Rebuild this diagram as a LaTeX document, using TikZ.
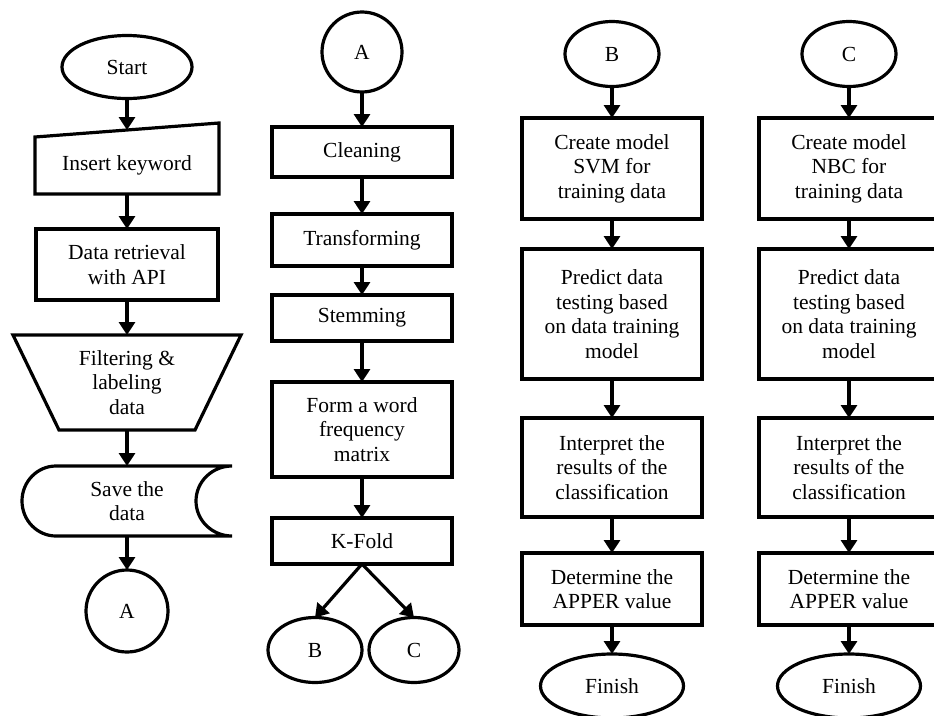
\documentclass[tikz,border=0pt]{standalone}
\usepackage{fontspec}
\setmainfont{Liberation Serif}
\usepackage{tikz}
\usetikzlibrary{shapes.geometric}
\usetikzlibrary{arrows.meta}
\usetikzlibrary{calc}
\newcommand{\flowwidth}{3.2pt}
\tikzstyle{outline}=[line width=\flowwidth, line join=miter]
\tikzstyle{plain}=[inner sep=0, outer sep=0, align=center, font=\fontsize{21.5}{24.5}\selectfont]
\tikzstyle{process}=[plain, outline, draw, rectangle, minimum width=180pt]
\tikzstyle{terminal}=[plain, outline, draw, ellipse]
\tikzstyle{connector}=[plain, outline, draw, circle]
\tikzstyle{flow}=[line width=\flowwidth, -{Triangle[width=16pt, length=13pt]}]

\begin{document}
\begin{tikzpicture}[x=1pt, y=-1pt]
    \useasboundingbox (0,0) rectangle (934,715);
    \clip (0,0) rectangle (934,715);
    % first column
    \node[terminal, minimum width=130pt, minimum height=63pt] (start) at (127,67) {Start};
    \node[plain, minimum width=184pt, minimum height=57pt] (ins) at (127,165.5) {Insert keyword};
    \draw[outline] (ins.south west) -- (ins.south east) -- ($(ins.north east)+(0,-14)$) -- (ins.north west) -- cycle;
    \coordinate (ins-top) at ($(ins.north)+(0,-7)$);
    \node[process, minimum width=182pt, minimum height=71pt] (dret) at (127,264.5) {Data retrieval\\with API};
    \node[plain, minimum width=228pt, minimum height=95pt] (filt) at (127,382.5) {Filtering \&\\labeling\\data};
    \draw[outline] (filt.north west) -- (filt.north east) -- ($(filt.south east)+(-46,0)$) -- ($(filt.south west)+(46,0)$) -- cycle;
    \node[plain, minimum width=210pt, minimum height=70pt] (save) at (127,501) {Save the\\data};
    \draw[outline] (save.north east) -- ($(save.north west)+(34,0)$)
        arc[start angle=90, end angle=270, x radius=34pt, y radius=35pt] -- (save.south east)
        arc[start angle=270, end angle=90, x radius=36pt, y radius=35pt] -- cycle;
    \node[connector, minimum size=82pt] (a-out) at (127,611) {A};
    \draw[flow] (start) -- (ins-top);
    \draw[flow] (ins) -- (dret);
    \draw[flow] (dret) -- (filt);
    \draw[flow] (filt) -- (save);
    \draw[flow] (save) -- (a-out);

    % second column
    \node[connector, minimum size=80pt] (a-in) at (362,52) {A};
    \node[process, minimum height=50pt] (clean) at (362,152) {Cleaning};
    \node[process, minimum height=52pt] (trans) at (362,240) {Transforming};
    \node[process, minimum height=46pt] (stem) at (362,318) {Stemming};
    \node[process, minimum height=95pt] (form) at (362,429.5) {Form a word\\frequency\\matrix};
    \node[process, minimum height=46pt] (kfold) at (362,541) {K-Fold};
    \node[terminal, minimum width=94pt, minimum height=65pt] (b-out) at (315,650) {B};
    \node[terminal, minimum width=90pt, minimum height=65pt] (c-out) at (414,650) {C};
    \draw[flow] (a-in) -- (clean);
    \draw[flow] (clean) -- (trans);
    \draw[flow] (trans) -- (stem);
    \draw[flow] (stem) -- (form);
    \draw[flow] (form) -- (kfold);
    \draw[flow] (kfold.south) -- (b-out.north);
    \draw[flow] (kfold.south) -- (c-out.north);

    % third column, SVM
    \node[terminal, minimum width=94pt, minimum height=65pt] (b-in) at (612,54) {B};
    \node[process, minimum height=101pt] (svm-model) at (612,168.5) {Create model\\SVM for\\training data};
    \node[process, minimum height=130pt] (svm-predict) at (612,314) {Predict data\\testing based\\on data training\\model};
    \node[process, minimum height=99pt] (svm-result) at (612,467.5) {Interpret the\\results of the\\classification};
    \node[process, minimum height=72pt] (svm-apper) at (612,589) {Determine the\\APPER value};
    \node[terminal, minimum width=143pt, minimum height=64pt] (svm-finish) at (612,686) {Finish};
    \draw[flow] (b-in) -- (svm-model);
    \draw[flow] (svm-model) -- (svm-predict);
    \draw[flow] (svm-predict) -- (svm-result);
    \draw[flow] (svm-result) -- (svm-apper);
    \draw[flow] (svm-apper) -- (svm-finish);

    % fourth column, NBC
    \node[terminal, minimum width=94pt, minimum height=65pt] (c-in) at (849,54) {C};
    \node[process, minimum height=101pt] (nbc-model) at (849,168.5) {Create model\\NBC for\\training data};
    \node[process, minimum height=130pt] (nbc-predict) at (849,314) {Predict data\\testing based\\on data training\\model};
    \node[process, minimum height=99pt] (nbc-result) at (849,467.5) {Interpret the\\results of the\\classification};
    \node[process, minimum height=72pt] (nbc-apper) at (849,589) {Determine the\\APPER value};
    \node[terminal, minimum width=143pt, minimum height=64pt] (nbc-finish) at (849,686) {Finish};
    \draw[flow] (c-in) -- (nbc-model);
    \draw[flow] (nbc-model) -- (nbc-predict);
    \draw[flow] (nbc-predict) -- (nbc-result);
    \draw[flow] (nbc-result) -- (nbc-apper);
    \draw[flow] (nbc-apper) -- (nbc-finish);
\end{tikzpicture}
\end{document}
